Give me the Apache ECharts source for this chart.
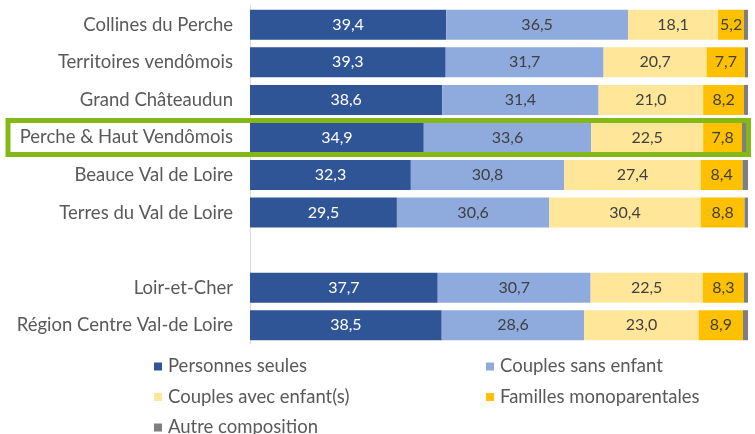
<!DOCTYPE html>
<html>
<head>
<meta charset="utf-8">
<script src="https://cdn.jsdelivr.net/npm/echarts@6/dist/echarts.min.js"></script>
<style>
html, body { margin: 0; padding: 0; background: #fff; }
#main { width: 755px; height: 434px; }
</style>
</head>
<body>
<div id="main"></div>
<script>
var chart = echarts.init(document.getElementById('main'));

// categories (empty one makes the gap before the reference areas)
var categories = ['Collines du Perche', 'Territoires vendômois', 'Grand Châteaudun',
    'Perche & Haut Vendômois', 'Beauce Val de Loire', 'Terres du Val de Loire', '',
    'Loir-et-Cher', 'Région Centre Val-de Loire'];
var highlighted = 'Perche & Haut Vendômois';

var personnesSeules = [39.4, 39.3, 38.6, 34.9, 32.3, 29.5, null, 37.7, 38.5];
var couplesSansEnfant = [36.5, 31.7, 31.4, 33.6, 30.8, 30.6, null, 30.7, 28.6];
var couplesAvecEnfants = [18.1, 20.7, 21.0, 22.5, 27.4, 30.4, null, 22.5, 23.0];
var famillesMono = [5.2, 7.7, 8.2, 7.8, 8.4, 8.8, null, 8.3, 8.9];
var autreComposition = [0.8, 0.6, 0.8, 1.2, 1.1, 0.7, null, 0.8, 1.0];

var font = 'Lato';

function fmt(p) {
    return p.value == null ? '' : p.value.toFixed(1).replace('.', ',');
}

function barSeries(name, data, color, labelColor, showLabel) {
    return {
        name: name,
        type: 'bar',
        stack: 'total',
        barWidth: 30,
        data: data,
        itemStyle: { color: color },
        label: {
            show: showLabel,
            position: 'inside',
            formatter: fmt,
            color: labelColor,
            fontFamily: font,
            fontSize: 16
        },
        emphasis: { disabled: true }
    };
}

function legendBox(left, names) {
    return {
        orient: 'vertical', left: left, top: 357, height: 100, padding: 0, itemGap: 11.5,
        icon: 'rect', itemWidth: 8, itemHeight: 8,
        textStyle: { color: '#595959', fontFamily: font, fontSize: 18.5, padding: [0, 0, 0, 1] },
        data: names
    };
}

var option = {
    animation: false,
    grid: { left: 250, right: 7, top: 6, height: 338, containLabel: false },
    xAxis: { type: 'value', min: 0, max: 100, show: false },
    yAxis: {
        type: 'category',
        inverse: true,
        data: categories,
        axisLine: { show: true, lineStyle: { color: '#d9d9d9', width: 1 } },
        axisTick: { show: false },
        axisLabel: { color: '#595959', fontFamily: font, fontSize: 18.5, margin: 17 }
    },
    legend: [
        legendBox(154, ['Personnes seules', 'Couples avec enfant(s)', 'Autre composition']),
        legendBox(486, ['Couples sans enfant', 'Familles monoparentales'])
    ],
    series: [
        barSeries('Personnes seules', personnesSeules, '#2f5597', '#ffffff', true),
        barSeries('Couples sans enfant', couplesSansEnfant, '#8faadc', '#404040', true),
        barSeries('Couples avec enfant(s)', couplesAvecEnfants, '#ffe699', '#404040', true),
        barSeries('Familles monoparentales', famillesMono, '#ffc000', '#404040', true),
        barSeries('Autre composition', autreComposition, '#7f7f7f', '#404040', false)
    ]
};
chart.setOption(option);

// green frame around the highlighted territory, placed from the axis
var cy = chart.convertToPixel({ yAxisIndex: 0 }, highlighted);
chart.setOption({
    graphic: [{
        type: 'rect',
        z: 100,
        shape: { x: 8, y: cy - 17, width: 740.5, height: 34 },
        style: { fill: null, stroke: '#84b818', lineWidth: 5 }
    }]
});
</script>
</body>
</html>
